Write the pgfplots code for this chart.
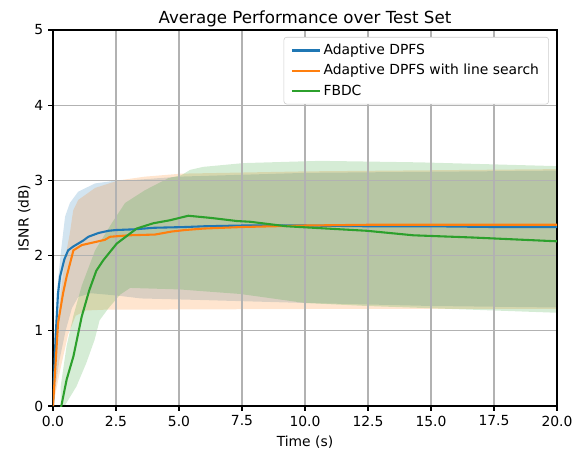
\documentclass[border=0pt]{standalone}
\usepackage{fontspec}
\setmainfont{DejaVu Sans}
\usepackage{pgfplots}
\pgfplotsset{compat=1.18}
\usepgfplotslibrary{fillbetween}
\definecolor{c1}{HTML}{1F77B4}
\definecolor{c2}{HTML}{FF7F0E}
\definecolor{c3}{HTML}{2CA02C}
\begin{document}
\begin{tikzpicture}
\begin{axis}[
 set layers=standard,
 fill between/on layer=axis background,
 at={(0,0)}, anchor=south west,
 scale only axis, width=362.88pt, height=270.72pt,
 xmin=0, xmax=20, ymin=0, ymax=5,
 xtick={0,2.5,5,7.5,10,12.5,15,17.5,20}, ytick={0,1,2,3,4,5},
 grid=major, grid style={draw=black!30, line width=0.8pt},
 axis line style={line width=0.8pt},
 tick style={black, line width=0.8pt}, tick align=outside, major tick length=3.5pt,
 xtick pos=left, ytick pos=left,
 /pgf/number format/assume math mode=true,
 xticklabel style={/pgf/number format/fixed, /pgf/number format/fixed zerofill, /pgf/number format/precision=1},
 ticklabel style={font=\fontsize{10}{12}\selectfont},
 title={Average Performance over Test Set},
 title style={font=\fontsize{12}{14}\selectfont, yshift=-7pt},
 xlabel={Time (s)}, ylabel={ISNR (dB)},
 ylabel style={yshift=-4pt},
 label style={font=\fontsize{10}{12}\selectfont},
 no markers,
 legend style={at={(1,1)}, anchor=north east, xshift=-5.8pt, yshift=-5pt, draw=black!20, rounded corners=2pt, font=\fontsize{10}{12}\selectfont, row sep=1.5pt, inner xsep=5pt, inner ysep=3pt},
 legend cell align=left,
 legend image code/.code={\draw[#1, line width=1.5pt] (0pt,0pt) -- (20pt,0pt);},
]
% bands
\addplot[draw=none, name path=bu, forget plot] coordinates {(0,0) (0.15,1.5) (0.32,2.07) (0.48,2.52) (0.67,2.70) (1.0,2.85) (1.67,2.96) (2.33,2.99) (3,3.0) (5,3.05) (10,3.1) (20,3.13)};
\addplot[draw=none, name path=bl, forget plot] coordinates {(0,0) (0.25,0.6) (0.5,1.0) (0.75,1.3) (1.0,1.45) (1.5,1.5) (2.5,1.47) (3.5,1.43) (5.8,1.41) (10,1.37) (15,1.33) (20,1.31)};
\addplot[c1, fill opacity=0.2, draw=none, forget plot] fill between[of=bu and bl];
\addplot[draw=none, name path=ou, forget plot] coordinates {(0,0) (0.3,1.5) (0.5,2.0) (0.67,2.30) (0.8,2.6) (1.0,2.74) (1.67,2.9) (2.6,3.0) (3.65,3.05) (5.1,3.09) (10,3.12) (20,3.15)};
\addplot[draw=none, name path=ol, forget plot] coordinates {(0,0) (0.3,0.5) (0.6,0.95) (0.9,1.2) (1.3,1.27) (2,1.28) (10,1.29) (20,1.29)};
\addplot[c2, fill opacity=0.2, draw=none, forget plot] fill between[of=ou and ol];
\addplot[draw=none, name path=gu, forget plot] coordinates {(0.3,0.25) (0.54,0.8) (0.81,1.2) (1.14,1.6) (1.67,2.07) (2.33,2.43) (2.86,2.70) (3.65,2.87) (4.58,3.03) (5.1,3.07) (5.44,3.14) (5.96,3.18) (7.55,3.23) (10.6,3.26) (14.56,3.24) (20,3.19)};
\addplot[draw=none, name path=gl, forget plot] coordinates {(0.3,-0.6) (0.46,0) (0.93,0.26) (1.32,0.57) (1.65,0.88) (1.85,1.14) (2.2,1.3) (2.66,1.48) (3.06,1.57) (5.04,1.55) (5.8,1.53) (7.42,1.49) (10,1.37) (12.45,1.33) (15,1.30) (17.5,1.27) (20,1.24)};
\addplot[c3, fill opacity=0.2, draw=none, forget plot] fill between[of=gu and gl];
% means
\addplot[c1, line width=1.5pt] coordinates {(0,0) (0.1,0.9) (0.2,1.5) (0.28,1.72) (0.45,1.95) (0.6,2.07) (0.8,2.12) (1.0,2.16) (1.2,2.2) (1.4,2.25) (1.8,2.30) (2.2,2.33) (2.5,2.34) (3.25,2.35) (4,2.37) (5.24,2.38) (6,2.39) (7.5,2.40) (10,2.40) (12.5,2.39) (15,2.39) (17.5,2.38) (20,2.38)};
\addlegendentry{Adaptive DPFS}
\addplot[c2, line width=1.5pt] coordinates {(0,0) (0.2,1.1) (0.4,1.5) (0.54,1.72) (0.81,2.07) (1.14,2.14) (1.67,2.18) (2.06,2.21) (2.26,2.25) (3,2.27) (4.05,2.28) (4.71,2.32) (5.24,2.34) (6,2.36) (7.5,2.38) (10,2.40) (12.5,2.41) (15,2.41) (20,2.41)};
\addlegendentry{Adaptive DPFS with line search}
\addplot[c3, line width=1.5pt] coordinates {(0.3,-0.05) (0.54,0.35) (0.81,0.66) (1.14,1.19) (1.44,1.54) (1.72,1.8) (2.0,1.94) (2.53,2.16) (3.32,2.36) (3.98,2.43) (4.64,2.47) (5.37,2.53) (6.3,2.50) (7.29,2.46) (7.82,2.45) (9.27,2.39) (12.45,2.33) (14.3,2.27) (16.7,2.24) (20,2.19)};
\addlegendentry{FBDC}
\end{axis}
\pgfresetboundingbox
\path[use as bounding box] (-38.16pt,-31.68pt) rectangle (373.68pt,292.32pt);
\end{tikzpicture}
\end{document}
